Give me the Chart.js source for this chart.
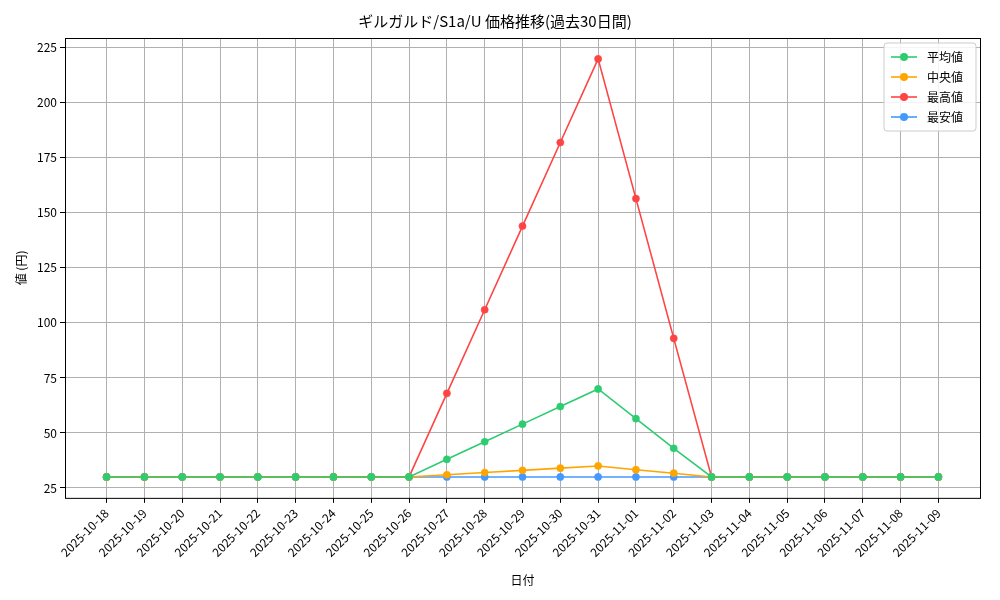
<!DOCTYPE html>
<html>
<head>
<meta charset="utf-8">
<script src="https://cdn.jsdelivr.net/npm/chart.js@4"></script>
<style>
  body { margin: 0; background: #fff; }
  #wrap { width: 1000px; height: 600px; }
</style>
</head>
<body>
<div id="wrap"><canvas id="priceChart" width="1000" height="600"></canvas></div>
<script>
const dates = ['2025-10-18','2025-10-19','2025-10-20','2025-10-21','2025-10-22','2025-10-23','2025-10-24','2025-10-25','2025-10-26','2025-10-27','2025-10-28','2025-10-29','2025-10-30','2025-10-31','2025-11-01','2025-11-02','2025-11-03','2025-11-04','2025-11-05','2025-11-06','2025-11-07','2025-11-08','2025-11-09'];
const avgValues = [30,30,30,30,30,30,30,30,30,38,46,54,62,70,56.5,43,30,30,30,30,30,30,30];
const medianValues = [30,30,30,30,30,30,30,30,30,31,32,33,34,35,33.3,31.7,30,30,30,30,30,30,30];
const maxValues = [30,30,30,30,30,30,30,30,30,68,106,144,182,220,156.5,93,30,30,30,30,30,30,30];
const minValues = [30,30,30,30,30,30,30,30,30,30,30,30,30,30,30,30,30,30,30,30,30,30,30];
const yTicks = [25,50,75,100,125,150,175,200,225];

const FONT = '"Noto Sans CJK JP", "DejaVu Sans", sans-serif';

function series(label, values, color, order) {
  return {
    label: label,
    data: values.map((v, i) => ({ x: i, y: v })),
    borderColor: color,
    backgroundColor: color,
    borderWidth: 1.6,
    pointRadius: 3.6,
    pointBorderWidth: 0.5,
    pointHoverRadius: 3.6,
    tension: 0,
    order: order
  };
}

// matplotlib-like legend box in the upper right
const legendBox = {
  id: 'legendBox',
  afterDraw(chart) {
    const ctx = chart.ctx;
    const area = chart.chartArea;
    const items = chart.data.datasets;
    const w = 92, rowH = 20, h = items.length * rowH + 8;
    const x = area.right - w - 4, y = area.top + 5;
    ctx.save();
    ctx.fillStyle = 'rgba(255,255,255,0.85)';
    ctx.strokeStyle = '#cccccc';
    ctx.lineWidth = 1;
    ctx.beginPath();
    ctx.roundRect(x, y, w, h, 3);
    ctx.fill();
    ctx.stroke();
    ctx.font = '12px ' + FONT;
    ctx.textBaseline = 'middle';
    items.forEach((ds, i) => {
      const cy = y + 14 + i * rowH;
      ctx.strokeStyle = ds.borderColor;
      ctx.lineWidth = 1.6;
      ctx.beginPath();
      ctx.moveTo(x + 7, cy);
      ctx.lineTo(x + 33, cy);
      ctx.stroke();
      ctx.fillStyle = ds.borderColor;
      ctx.beginPath();
      ctx.arc(x + 20, cy, 4, 0, Math.PI * 2);
      ctx.fill();
      ctx.fillStyle = '#000';
      ctx.fillText(ds.label, x + 43, cy);
    });
    ctx.restore();
  }
};

// black frame around plot area
const frame = {
  id: 'frame',
  afterDatasetsDraw(chart) {
    const a = chart.chartArea, ctx = chart.ctx;
    ctx.save();
    ctx.strokeStyle = '#000';
    ctx.lineWidth = 1;
    ctx.strokeRect(a.left + 0.5, a.top + 0.5, a.right - a.left, a.bottom - a.top);
    ctx.restore();
  }
};

new Chart(document.getElementById('priceChart').getContext('2d'), {
  type: 'line',
  data: {
    datasets: [
      series('平均値', avgValues, '#2ecc71', 1),
      series('中央値', medianValues, '#ffa500', 2),
      series('最高値', maxValues, '#ff4444', 3),
      series('最安値', minValues, '#4499ff', 4)
    ]
  },
  plugins: [legendBox, frame],
  options: {
    responsive: false,
    animation: false,
    layout: { padding: { left: 10, right: 20, top: 8, bottom: 8 } },
    plugins: {
      legend: { display: false },
      tooltip: { enabled: false },
      title: {
        display: true,
        text: 'ギルガルド/S1a/U 価格推移(過去30日間)',
        color: '#000',
        font: { family: FONT, size: 15, weight: 'normal' },
        padding: { top: 4, bottom: 8 }
      }
    },
    scales: {
      x: {
        type: 'linear',
        min: -1.1,
        max: 23.1,
        afterBuildTicks(axis) {
          axis.ticks = dates.map((d, i) => ({ value: i }));
        },
        afterFit(axis) { axis.height += 9; },
        ticks: {
          autoSkip: false,
          maxRotation: 45,
          minRotation: 45,
          color: '#000',
          font: { family: FONT, size: 12 },
          callback: (v) => dates[v]
        },
        grid: { color: '#b0b0b0', drawTicks: true, tickLength: 5, tickColor: '#000' },
        border: { display: false },
        title: { display: true, text: '日付', color: '#000', font: { family: FONT, size: 12 }, padding: { top: 2 } }
      },
      y: {
        min: 20.5,
        max: 229.5,
        afterBuildTicks(axis) {
          axis.ticks = yTicks.map(v => ({ value: v }));
        },
        afterFit(axis) { axis.width = 55; },
        ticks: { color: '#000', font: { family: FONT, size: 12 } },
        grid: { color: '#b0b0b0', tickLength: 5, tickColor: '#000' },
        border: { display: false },
        title: { display: true, text: '値 (円)', color: '#000', font: { family: FONT, size: 12 } }
      }
    }
  }
});
</script>
</body>
</html>
